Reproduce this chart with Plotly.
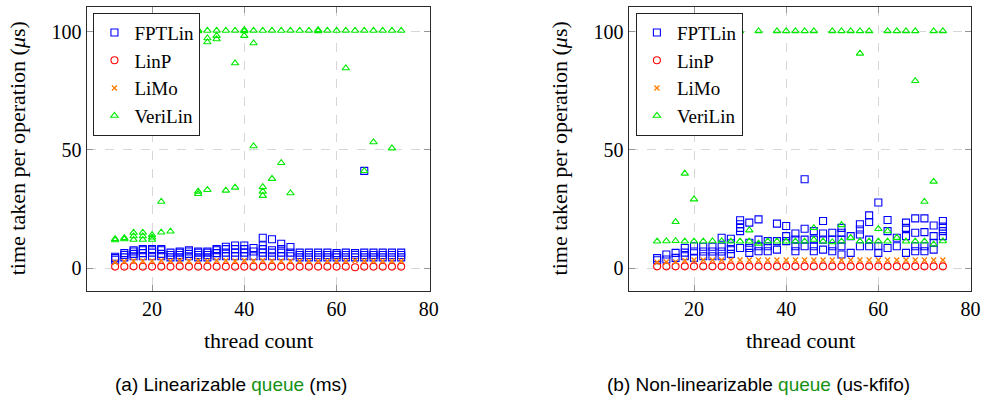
import plotly.graph_objects as go

threads = [12, 14, 16, 18, 20, 22, 24, 26, 28, 30, 32, 34, 36, 38, 40, 42,
           44, 46, 48, 50, 52, 54, 56, 58, 60, 62, 64, 66, 68, 70, 72, 74]

series_names = ["FPTLin", "LinP", "LiMo", "VeriLin"]

# ---- (a) Linearizable queue (ms): values per thread count ----
a_fptlin = [[3.5, 4.2, 4.8], [4.5, 5.5, 6.3], [5.0, 6.0, 7.0, 7.5], [5.0, 6.3, 7.5, 8.0],
            [5.0, 6.5, 7.5, 8.0], [5.0, 6.0, 7.5, 8.0], [4.5, 5.5, 6.5], [4.5, 5.5, 6.5, 7.0],
            [5.0, 6.0, 7.0, 7.5], [4.5, 5.5, 6.5, 7.0], [4.5, 5.5, 6.5, 7.0], [5.0, 6.3, 7.5, 8.0],
            [5.0, 6.5, 8.0, 9.0], [5.0, 6.5, 8.0, 9.5], [5.0, 6.5, 8.0, 9.5], [5.0, 7.0, 8.5],
            [5.0, 6.5, 8.0, 9.5, 12.8], [5.0, 6.5, 7.5, 12.2], [5.0, 6.5, 8.0, 10.3], [5.0, 6.5, 8.9],
            [4.5, 5.5, 6.5], [4.5, 5.5, 6.5], [4.5, 5.5, 6.5], [4.5, 5.5, 6.5],
            [4.5, 5.5, 6.3], [4.5, 5.5, 6.5], [4.5, 5.5, 6.3], [4.5, 5.5, 6.5, 41.1],
            [4.5, 5.5, 6.5], [4.5, 5.5, 6.5], [4.5, 5.5, 6.5], [4.5, 5.5, 6.5]]
a_linp = [[0.6], [0.6], [0.7], [0.6], [0.6], [0.6], [0.6], [0.7], [0.6], [0.6], [0.6], [0.6],
          [0.6], [0.6], [0.6], [0.6], [0.6], [0.6], [0.6], [0.6], [0.6], [0.6], [0.6], [0.6],
          [0.6], [0.6], [0.3], [0.6], [0.6], [0.6], [0.6], [0.6]]
a_limo = [[2.4], [2.8], [3.0], [3.0], [3.0], [3.2], [3.0], [3.2], [3.0], [3.2], [3.0], [3.2],
          [3.2], [3.0], [3.2], [3.0], [3.2], [3.0], [3.0], [3.0], [3.0], [3.0], [3.0], [3.0],
          [3.0], [3.0], [3.2], [3.0], [3.0], [3.0], [3.0], [3.0]]
a_verilin = [[11.8, 12.3], [12.2, 12.7], [12.0, 13.5, 15.0], [12.0, 13.5, 15.0],
             [12.0, 13.0, 14.0], [15.1, 28.1], [15.5, 100.5], [100.4],
             [100.3, 100.8], [31.4, 32.4, 100.3, 100.8], [33.1, 95.6, 97.3, 100.5], [96.9, 98.3, 100.5],
             [32.8, 100.5], [34.1, 86.7, 100.5], [98.3, 100.3, 100.8], [51.6, 95.2, 100.5],
             [30.6, 32.4, 34.3, 100.5], [37.8, 100.5], [44.5, 100.5], [31.7, 100.5],
             [100.5], [100.5], [100.3, 100.8], [100.5],
             [100.5], [84.6, 100.5], [100.5], [41.1, 100.5],
             [53.3, 100.5], [100.5], [50.7, 100.5], [100.5]]

# ---- (b) Non-linearizable queue (us-kfifo) ----
b_fptlin = [[3.3, 4.2], [3.6, 5.7], [4.3, 6.4], [5.0, 6.5, 8.5],
            [4.3, 7.0, 9.2], [5.0, 7.0, 9.0], [5.0, 7.0, 9.0], [5.0, 7.0, 9.0, 12.8],
            [6.0, 8.0, 10.5, 12.4], [8.5, 15.6, 17.0, 18.5, 20.2], [6.4, 8.5, 10.7, 19.2], [7.1, 9.2, 12.0, 20.6],
            [7.1, 9.2, 11.4], [7.8, 11.4, 18.8], [11.4, 13.5, 17.8], [7.1, 9.2, 12.0, 14.6],
            [9.2, 12.0, 16.6, 37.6], [7.1, 9.2, 12.0, 15.6], [7.8, 12.0, 14.6, 19.9], [7.1, 9.2, 12.0, 14.9],
            [5.7, 9.2, 12.0, 14.9, 17.0], [6.4, 13.5], [9.2, 14.2, 16.3, 18.5], [9.2, 12.0, 19.5, 22.3],
            [6.4, 9.2, 27.7], [8.5, 15.6, 20.3], [9.2, 12.8], [6.4, 13.5, 17.0, 19.2],
            [7.1, 9.2, 14.9, 21.0], [7.1, 9.2, 15.2, 21.0], [7.8, 10.7, 13.5, 18.0], [13.5, 15.6, 17.5, 19.9]]
b_linp = [[0.7], [0.7], [0.7], [0.7], [0.7], [0.7], [0.7], [0.7], [0.7], [0.7], [0.7], [0.7],
          [0.7], [0.7], [0.7], [0.7], [0.7], [0.7], [0.7], [0.7], [0.7], [0.7], [0.7], [0.7],
          [0.7], [0.7], [0.7], [0.7], [0.7], [0.7], [0.7], [0.7]]
b_limo = [[2.4], [2.5], [2.6], [3.2], [3.4], [3.4], [3.4], [3.4], [3.4], [3.4], [3.4], [3.4],
          [3.4], [3.4], [3.4], [3.4], [3.4], [3.4], [3.4], [3.4], [3.4], [3.4], [3.4], [3.4],
          [3.4], [3.4], [3.4], [3.4], [3.4], [3.4], [3.4], [3.4]]
b_verilin = [[11.3], [11.4], [11.5, 19.5], [11.3, 40.0],
             [11.3, 29.1], [11.3], [11.4], [11.4],
             [11.3, 100.3], [11.3, 100.3], [11.3, 16.0], [10.4, 100.3],
             [11.3], [11.3, 100.3], [11.3, 100.3], [11.3, 100.3],
             [11.3, 100.3], [12.0, 17.0, 100.3], [11.3], [11.0, 100.3],
             [11.3, 18.2, 100.3], [12.8, 100.3], [11.3, 90.8, 100.3], [11.3, 100.3],
             [11.3, 16.6], [11.3, 15.6, 100.3], [12.8, 100.3], [11.3, 100.3],
             [11.3, 79.2, 100.3], [11.3, 28.1], [10.0, 36.6, 100.3], [11.4, 100.3]]

x_ticks = [20, 40, 60, 80]
y_ticks = [0, 50, 100]


def flatten(xs, groups):
    fx, fy = [], []
    for x, vals in zip(xs, groups):
        for v in vals:
            fx.append(x)
            fy.append(v)
    return fx, fy


styles = {
    "FPTLin": dict(symbol="square-open", color="rgb(0,0,255)", size=7, lw=1.1),
    "LinP": dict(symbol="circle-open", color="rgb(255,0,0)", size=7, lw=1.1),
    "LiMo": dict(symbol="x-thin", color="rgb(255,128,0)", size=5, lw=1.4),
    "VeriLin": dict(symbol="triangle-up-open", color="rgb(0,235,0)", size=6.5, lw=1.1),
}

SERIF = "Liberation Serif"
SANS = "Liberation Sans"

fig = go.Figure()

panels = [
    ("x", "y", "legend", [a_fptlin, a_linp, a_limo, a_verilin]),
    ("x2", "y2", "legend2", [b_fptlin, b_linp, b_limo, b_verilin]),
]
for xa, ya, lg, groups in panels:
    for name, grp in zip(series_names, groups):
        st = styles[name]
        fx, fy = flatten(threads, grp)
        fig.add_trace(go.Scatter(
            x=fx, y=fy, mode="markers", name=name, xaxis=xa, yaxis=ya, legend=lg,
            marker=dict(symbol=st["symbol"], size=st["size"], color=st["color"],
                        line=dict(color=st["color"], width=st["lw"])),
            cliponaxis=True,
        ))

W, H = 996, 401


def px(x):
    return x / W


def py(y):
    return (H - y) / H


axis_common = dict(
    showline=True, linecolor="#2a2a2a", linewidth=1.2, mirror="allticks",
    ticks="inside", ticklen=6, tickcolor="rgb(150,150,150)", tickwidth=1,
    showgrid=True, gridcolor="rgb(215,215,215)", griddash="dash", gridwidth=1,
    zeroline=False, tickfont=dict(family=SERIF, size=20, color="black"),
)

x_rng = [5.8, 80.2]
y_rng = [-9.6, 110.6]
ydom = [py(290.7), py(6.7)]
legend_common = dict(xanchor="left", yanchor="top", bgcolor="white", bordercolor="#222",
                     borderwidth=1, font=dict(family=SERIF, size=19, color="black"),
                     itemwidth=30, tracegroupgap=0)
fig.update_layout(
    width=W, height=H, margin=dict(l=0, r=0, t=0, b=0),
    paper_bgcolor="white", plot_bgcolor="white",
    xaxis=dict(domain=[px(87.3), px(433.7)], range=x_rng, tickvals=x_ticks, anchor="y", **axis_common),
    yaxis=dict(domain=ydom, range=y_rng, tickvals=y_ticks, anchor="x", **axis_common),
    xaxis2=dict(domain=[px(634.3), px(980.3)], range=x_rng, tickvals=x_ticks, anchor="y2", **axis_common),
    yaxis2=dict(domain=ydom, range=y_rng, tickvals=y_ticks, anchor="x2", **axis_common),
    legend=dict(x=px(94.3), y=py(12.7), **legend_common),
    legend2=dict(x=px(641.7), y=py(12.7), **legend_common),
    showlegend=True,
)

ytitle = "time taken per operation (<i>μ</i>s)"
annos = [
    dict(text=ytitle, x=px(18), y=py(148.5), textangle=-90, font=dict(family=SERIF, size=22)),
    dict(text=ytitle, x=px(565), y=py(148.5), textangle=-90, font=dict(family=SERIF, size=22)),
    dict(text="thread count", x=px(260.5), y=py(340), font=dict(family=SERIF, size=22)),
    dict(text="thread count", x=px(807.3), y=py(340), font=dict(family=SERIF, size=22)),
    dict(text="(a) Linearizable <span style='color:rgb(20,145,20)'>queue</span> (ms)",
         x=px(233), y=py(384), font=dict(family=SANS, size=19)),
    dict(text="(b) Non-linearizable <span style='color:rgb(20,145,20)'>queue</span> (us-kfifo)",
         x=px(765), y=py(384), font=dict(family=SANS, size=19)),
]
for a in annos:
    a.update(xref="paper", yref="paper", showarrow=False, xanchor="center", yanchor="middle")
    a["font"]["color"] = "black"
    fig.add_annotation(**a)

# remove the browser's default 8px page margin so the figure sits at the window origin
fig.write_html("out.html", config={"displayModeBar": False},
               post_script="document.body.style.margin='0px';")
